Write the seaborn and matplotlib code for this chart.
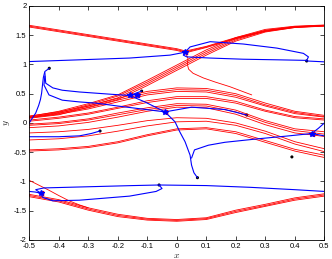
import numpy as np
import pandas as pd
import matplotlib
matplotlib.use("Agg")
import matplotlib.pyplot as plt
import seaborn as sns

sns.set_style("ticks")
plt.rcParams['font.family'] = ['Liberation Sans', 'DejaVu Sans']
plt.rcParams['mathtext.fontset'] = 'cm'

# ---- red curves (manifold bands) ----
xa = [-0.5, -0.4, -0.3, -0.2, -0.1, 0.0, 0.03, 0.1, 0.2, 0.3, 0.4, 0.5]
band_a = {
    'a1': [1.67, 1.59, 1.51, 1.43, 1.35, 1.27, 1.23, 1.31, 1.46, 1.58, 1.645, 1.665],
    'a2': [1.655, 1.575, 1.495, 1.415, 1.335, 1.255, 1.215, 1.30, 1.45, 1.57, 1.638, 1.66],
    'a3': [1.64, 1.56, 1.48, 1.40, 1.32, 1.24, 1.20, 1.29, 1.44, 1.565, 1.632, 1.655],
}

xg = [-0.5, -0.4, -0.3, -0.2, -0.1, 0.0, 0.1, 0.2, 0.3, 0.4, 0.5]
band_b = {
    'b1': [0.11, 0.20, 0.33, 0.48, 0.73, 0.99, 1.25, 1.46, 1.60, 1.655, 1.675],
    'b2': [0.10, 0.18, 0.31, 0.46, 0.70, 0.96, 1.22, 1.44, 1.585, 1.648, 1.67],
    'b3': [0.09, 0.16, 0.29, 0.43, 0.67, 0.93, 1.19, 1.42, 1.57, 1.64, 1.665],
    'b4': [0.08, 0.14, 0.27, 0.40, 0.64, 0.90, 1.16, 1.40, 1.555, 1.632, 1.66],
}
waves = {
    'w1a': [0.12, 0.19, 0.29, 0.42, 0.54, 0.60, 0.59, 0.50, 0.34, 0.20, 0.13],
    'w1b': [0.10, 0.17, 0.26, 0.39, 0.51, 0.57, 0.56, 0.47, 0.31, 0.18, 0.11],
    'w1c': [0.09, 0.15, 0.24, 0.36, 0.48, 0.54, 0.53, 0.44, 0.29, 0.16, 0.10],
    'w2a': [0.05, 0.10, 0.17, 0.27, 0.38, 0.45, 0.45, 0.37, 0.22, 0.11, 0.07],
    'w2b': [0.03, 0.08, 0.15, 0.25, 0.35, 0.42, 0.42, 0.34, 0.20, 0.09, 0.05],
    'w3a': [-0.02, 0.01, 0.07, 0.17, 0.26, 0.33, 0.32, 0.22, 0.04, -0.10, -0.15],
    'w3b': [-0.04, -0.01, 0.05, 0.14, 0.23, 0.30, 0.29, 0.19, 0.01, -0.13, -0.19],
    'w3c': [-0.08, -0.05, 0.01, 0.10, 0.20, 0.27, 0.26, 0.15, -0.03, -0.17, -0.23],
    'w4a': [-0.17, -0.15, -0.11, -0.04, 0.04, 0.09, 0.08, 0.00, -0.14, -0.32, -0.44],
    'w4b': [-0.29, -0.27, -0.22, -0.14, -0.05, 0.02, 0.03, -0.04, -0.18, -0.36, -0.49],
    'w5a': [-0.46, -0.44, -0.40, -0.32, -0.20, -0.10, -0.08, -0.15, -0.30, -0.45, -0.55],
    'w5b': [-0.48, -0.46, -0.42, -0.34, -0.22, -0.12, -0.10, -0.18, -0.33, -0.48, -0.59],
}
band_c = {
    'c1': [-1.22, -1.31, -1.45, -1.56, -1.63, -1.65, -1.62, -1.49, -1.39, -1.28, -1.21],
    'c2': [-1.24, -1.33, -1.47, -1.58, -1.645, -1.665, -1.635, -1.51, -1.41, -1.30, -1.23],
    'c3': [-1.26, -1.35, -1.49, -1.60, -1.66, -1.68, -1.65, -1.53, -1.425, -1.32, -1.25],
}
hook_x = [0.03, 0.038, 0.036, 0.04, 0.055, 0.09, 0.13, 0.18, 0.254]
hook_y = [1.20, 1.10, 1.00, 0.92, 0.85, 0.77, 0.70, 0.62, 0.48]
steep_x = [-0.5, -0.433, -0.4, -0.365, -0.33, -0.3]
steep_y = [-0.98, -1.15, -1.24, -1.33, -1.40, -1.45]

# ---- blue trajectories ----
blue = {
    'top_left': ([-0.5, -0.3, -0.16, -0.023, 0.028],
                 [1.05, 1.085, 1.11, 1.16, 1.21]),
    'top_loop': ([0.028, 0.045, 0.113, 0.225, 0.339, 0.429, 0.446, 0.44, 0.339, 0.225, 0.113, 0.034, 0.022, 0.03],
                 [1.21, 1.30, 1.39, 1.35, 1.28, 1.19, 1.13, 1.07, 1.08, 1.09, 1.11, 1.13, 1.16, 1.20]),
    'top_right': ([0.44, 0.5], [1.06, 1.045]),
    'left_vert': ([-0.432, -0.447, -0.452, -0.455, -0.458, -0.462, -0.468, -0.478, -0.49, -0.5],
                  [0.935, 0.88, 0.78, 0.65, 0.51, 0.40, 0.30, 0.17, 0.08, 0.0]),
    'right_in': ([0.5, 0.48, 0.457], [0.0, -0.09, -0.18]),
    'arc1': ([-0.447, -0.444, -0.42, -0.388, -0.33, -0.275, -0.22, -0.16, -0.119],
             [0.86, 0.68, 0.60, 0.56, 0.53, 0.51, 0.49, 0.47, 0.545]),
    'arc2': ([-0.447, -0.45, -0.433, -0.388, -0.33, -0.275, -0.2, -0.12, -0.04],
             [0.80, 0.65, 0.48, 0.39, 0.36, 0.34, 0.29, 0.24, 0.19]),
    'diag': ([-0.16, -0.108, -0.04], [0.47, 0.36, 0.19]),
    'mid_right': ([-0.04, 0.05, 0.163, 0.237], [0.19, 0.27, 0.23, 0.137]),
    'vertical': ([-0.04, -0.006, 0.01, 0.028, 0.045, 0.05, 0.058, 0.07],
                 [0.19, 0.02, -0.15, -0.32, -0.55, -0.72, -0.85, -0.935]),
    'branch': ([0.05, 0.06, 0.107, 0.163, 0.276, 0.38, 0.457, 0.5],
               [-0.60, -0.46, -0.38, -0.33, -0.27, -0.22, -0.18, -0.22]),
    'low_left': ([-0.5, -0.4, -0.33, -0.29, -0.26], [-0.235, -0.235, -0.22, -0.18, -0.137]),
    'bot_right': ([-0.06, 0.1, 0.25, 0.4, 0.5], [-1.06, -1.07, -1.10, -1.14, -1.17]),
    'bot_left': ([-0.5, -0.48, -0.461], [-1.17, -1.18, -1.20]),
    'bot_loop': ([-0.461, -0.478, -0.45, -0.3, -0.15, -0.06, -0.05, -0.07, -0.16, -0.33, -0.42, -0.455, -0.461],
                 [-1.20, -1.14, -1.11, -1.09, -1.07, -1.06, -1.12, -1.17, -1.25, -1.32, -1.33, -1.27, -1.20]),
}

dots_x = [-0.432, -0.119, 0.44, 0.237, 0.07, 0.39, -0.26, -0.06]
dots_y = [0.935, 0.545, 1.06, 0.137, -0.935, -0.58, -0.137, -1.06]

node_x = [0.028, -0.16, -0.135, -0.04, 0.457, -0.461]
node_y = [1.21, 0.47, 0.475, 0.19, -0.18, -1.20]

# ---- long-form tables ----
rows = []
for k, ys in band_a.items():
    rows += [(k, x, y) for x, y in zip(xa, ys)]
for d in (band_b, waves, band_c):
    for k, ys in d.items():
        rows += [(k, x, y) for x, y in zip(xg, ys)]
rows += [('hook', x, y) for x, y in zip(hook_x, hook_y)]
rows += [('steep', x, y) for x, y in zip(steep_x, steep_y)]
red_df = pd.DataFrame(rows, columns=['curve', 'x', 'y'])

rows = []
for k, (xs, ys) in blue.items():
    rows += [(k, x, y) for x, y in zip(xs, ys)]
blue_df = pd.DataFrame(rows, columns=['curve', 'x', 'y'])

fig = plt.figure(figsize=(3.32, 2.59), dpi=100)
ax = fig.add_axes([0.088, 0.0734, 0.889, 0.9035])

sns.lineplot(data=red_df, x='x', y='y', units='curve', estimator=None, sort=False,
             color='#ff0000', lw=0.6, ax=ax)
sns.lineplot(data=blue_df, x='x', y='y', units='curve', estimator=None, sort=False,
             color='#0000ff', lw=0.8, ax=ax)
ax.plot(node_x, node_y, ls='none', marker='<', ms=3, color='#ff0000')
ax.plot(node_x, node_y, ls='none', marker='*', ms=4, color='#0000ff')
sns.scatterplot(x=dots_x, y=dots_y, color='black', s=5, edgecolor='none', ax=ax)

ax.set_xlim(-0.5, 0.5)
ax.set_ylim(-2, 2)
ax.set_xticks(np.arange(-0.5, 0.51, 0.1))
ax.set_xticklabels(['-0.5', '-0.4', '-0.3', '-0.2', '-0.1', '0', '0.1', '0.2', '0.3', '0.4', '0.5'])
ax.set_yticks(np.arange(-2, 2.01, 0.5))
ax.set_yticklabels(['-2', '-1.5', '-1', '-0.5', '0', '0.5', '1', '1.5', '2'])
ax.tick_params(direction='in', length=3, width=0.5, top=True, right=True,
               labelsize=5.5, pad=2, colors='black')
for s in ax.spines.values():
    s.set_linewidth(0.6)
    s.set_color('black')
ax.set_xlabel('$x$', fontsize=7, labelpad=0)
ax.set_ylabel('$y$', fontsize=7, labelpad=1)

fig.savefig('out.png', dpi=100)
